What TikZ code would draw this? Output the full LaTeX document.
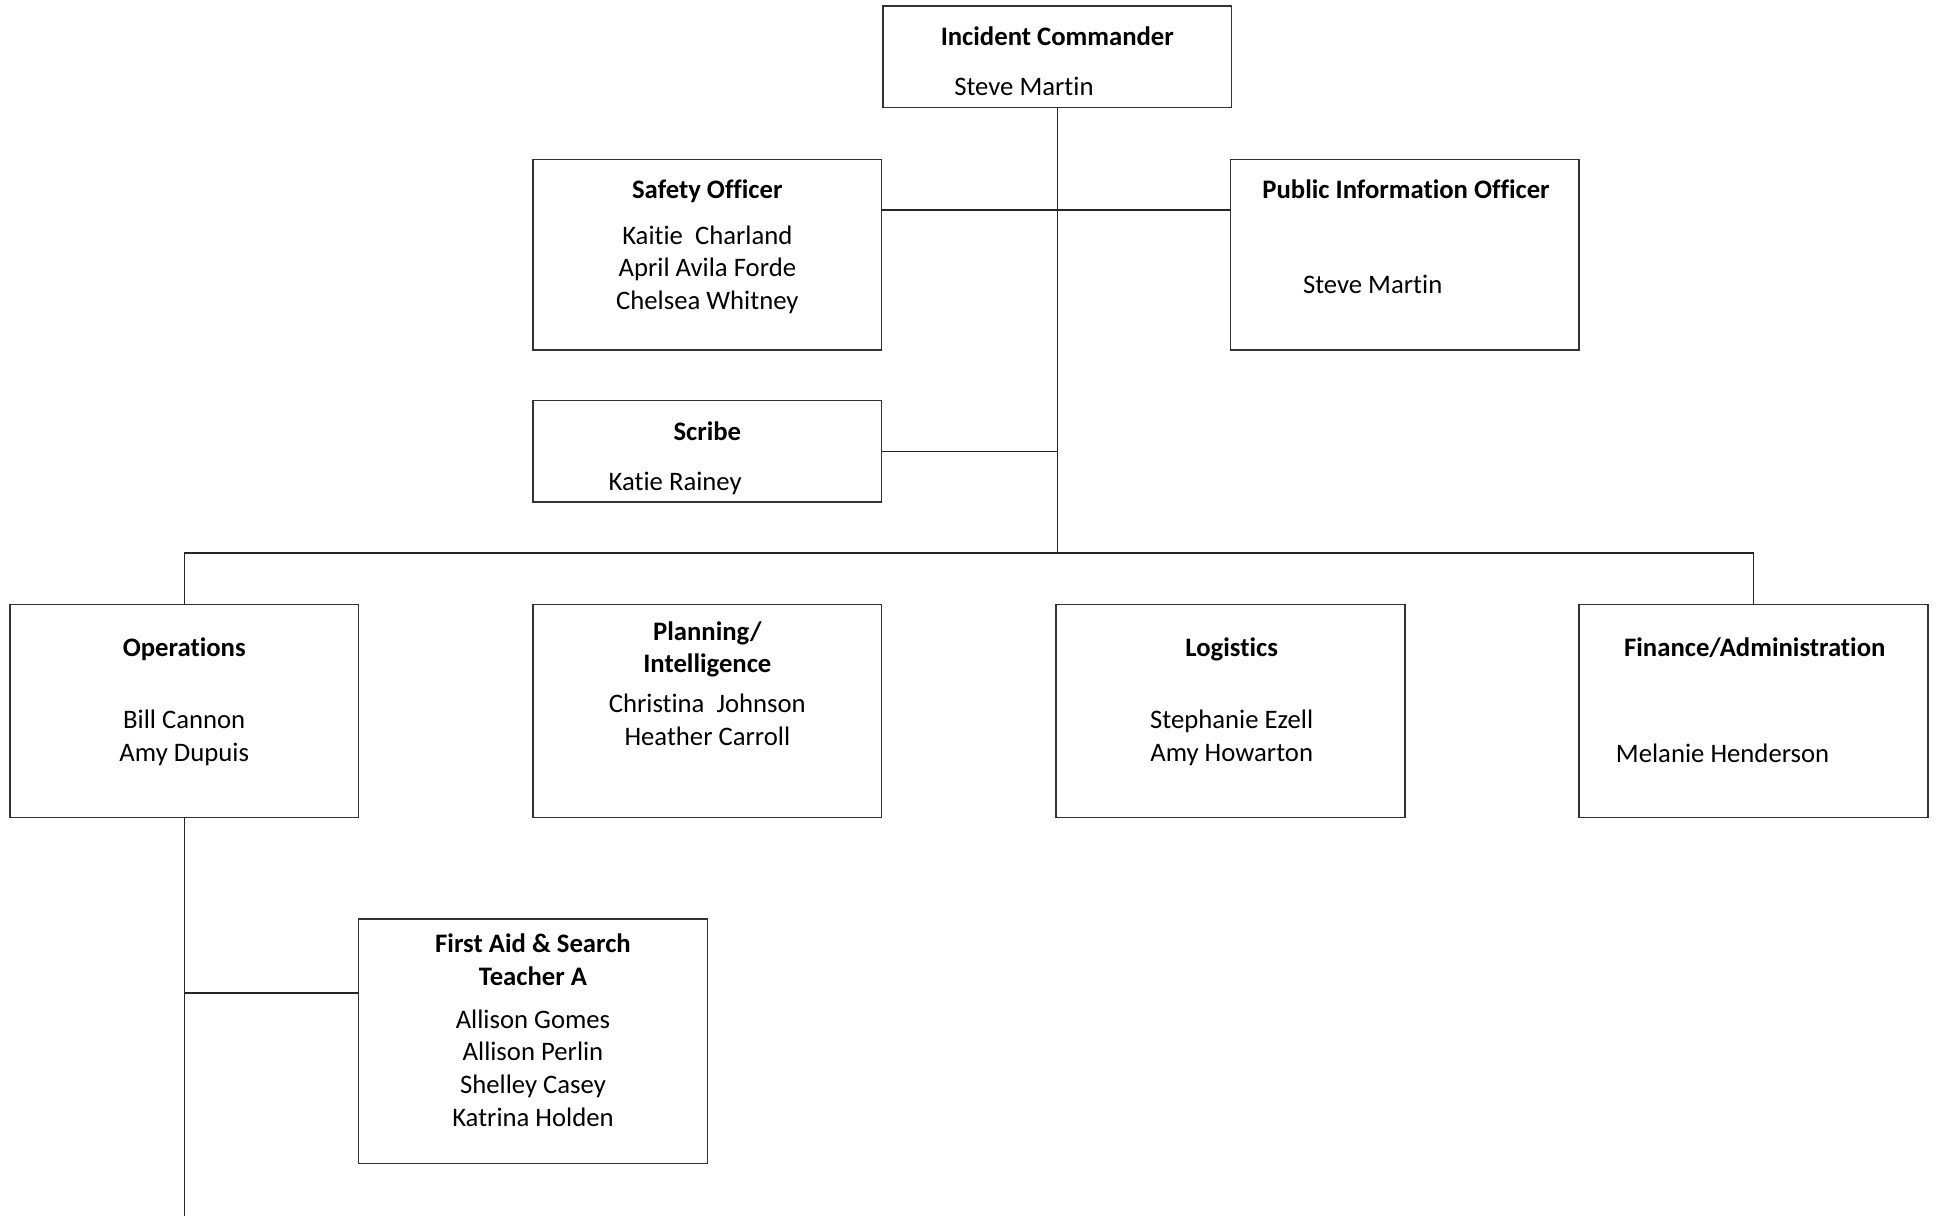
\documentclass[tikz,border=0pt]{standalone}
\usepackage{fontspec}
\setmainfont{Carlito}[Ligatures=NoCommon]
\usetikzlibrary{positioning}

\begin{document}
\begin{tikzpicture}[x=0.5pt, y=-0.5pt]
        \def\boxgap{70.5pt}
        \def\boxw{141pt}
        \def\boxlinewidth{0.6pt}
        \tikzset{
            unitbox/.style={rectangle, draw=black!80, line width=\boxlinewidth, minimum width=\boxw, inner sep=0pt, outer sep=0pt, anchor=north west},
            roletext/.style={font=\fontsize{10.8}{13}\selectfont\bfseries, align=center, inner sep=0pt, anchor=north},
            nametext/.style={font=\fontsize{10.8}{13.25}\selectfont, align=center, inner sep=0pt, anchor=north},
            link/.style={draw=black!85, line width=0.6pt}
        }
        \useasboundingbox (0, 0) rectangle (1568, 983);

        % command and staff
        \node[unitbox, minimum height=41pt] (ic) at (714, 5) {};
        \node[unitbox, minimum height=77pt] (safety) at (431, 129) {};
        \node[unitbox, minimum height=77pt, right=141pt of safety] (pio) {};
        \node[unitbox, minimum height=41pt] (scribe) at (431, 324) {};

        % sections
        \node[unitbox, minimum height=86pt] (ops) at (8, 489) {};
        \node[unitbox, minimum height=86pt, right=\boxgap of ops] (plan) {};
        \node[unitbox, minimum height=86pt, right=\boxgap of plan] (log) {};
        \node[unitbox, minimum height=86pt, right=\boxgap of log] (fin) {};
        \node[unitbox, minimum height=99pt] (aid) at (290, 743) {};

        % texts
        \node[roletext] (ictitle) at (855, 21) {Incident Commander};
        \node[nametext] (icname) at (828, 62) {Steve Martin};
        \node[roletext] (safetytitle) at (572, 145) {Safety Officer};
        \node[nametext] (safetynames) at (572, 182) {Kaitie\ \ Charland\\April Avila Forde\\Chelsea Whitney};
        \node[roletext] (piotitle) at (1137, 145) {Public Information Officer};
        \node[nametext] (pioname) at (1110, 222) {Steve Martin};
        \node[roletext] (scribetitle) at (572, 341) {Scribe};
        \node[nametext] (scribename) at (546, 381) {Katie Rainey};
        \node[roletext] (opstitle) at (149, 515) {Operations};
        \node[nametext] (opsnames) at (149, 574) {Bill Cannon\\Amy Dupuis};
        \node[roletext] (plantitle) at (572, 502) {Planning/\\Intelligence};
        \node[nametext] (plannames) at (572, 561) {Christina\ \ Johnson\\Heather Carroll};
        \node[roletext] (logtitle) at (996, 515) {Logistics};
        \node[nametext] (lognames) at (996, 574) {Stephanie Ezell\\Amy Howarton};
        \node[roletext] (fintitle) at (1419, 515) {Finance/Administration};
        \node[nametext] (finname) at (1393, 601) {Melanie Henderson};
        \node[roletext] (aidtitle) at (431, 755) {First Aid \& Search\\Teacher A};
        \node[nametext] (aidnames) at (431, 816) {Allison Gomes\\Allison Perlin\\Shelley Casey\\Katrina Holden};

        % connectors
        \coordinate (stafftap) at (855, 170);
        \coordinate (bus) at (855, 447);
        \coordinate (aidtap) at (149, 803);
        \coordinate (opsend) at (149, 983);
        \draw[link] (ic.south) -- (bus);
        \draw[link] (safety.east |- stafftap) -- (pio.west |- stafftap);
        \draw[link] (scribe.east) -- (scribe.east -| bus);
        \draw[link] (ops.north) |- (bus) -| (fin.north);
        \draw[link] (ops.south) -- (opsend);
        \draw[link] (aidtap) -- (aidtap -| aid.west);
    \end{tikzpicture}
\end{document}
